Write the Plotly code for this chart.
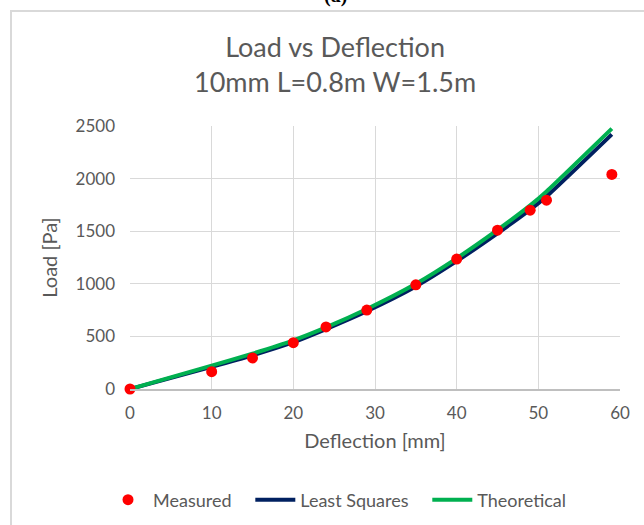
import plotly.graph_objects as go

# Data
deflection_mm = [0, 10, 15, 20, 24, 29, 35, 40, 45, 49, 51, 59]
measured_pa = [0, 165, 295, 440, 590, 750, 990, 1235, 1510, 1700, 1795, 2040]
least_squares_pa = [0, 210, 320, 445, 570, 740, 975, 1215, 1480, 1705, 1830, 2420]
theoretical_pa = [0, 222, 336, 462, 585, 760, 1000, 1242, 1512, 1745, 1878, 2475]

x_ticks = [0, 10, 20, 30, 40, 50, 60]
y_ticks = [0, 500, 1000, 1500, 2000, 2500]

W, H = 644, 525
PL, PR, PT, PB = 130, 620, 126, 389  # plot area in pixels


def px_x(p):
    return (p - PL) / (PR - PL)


def px_y(p):
    return (PB - p) / (PB - PT)


FONT = "Lato"
GREY = "#595959"
NB = "\u00a0"

fig = go.Figure()
fig.add_trace(go.Scatter(
    x=deflection_mm, y=least_squares_pa, mode="lines",
    name="Least Squares" + NB * 3,
    line=dict(color="#002060", width=4, shape="spline", smoothing=0.6),
    legendrank=2, cliponaxis=False))
fig.add_trace(go.Scatter(
    x=deflection_mm, y=theoretical_pa, mode="lines", name="Theoretical",
    line=dict(color="#00b050", width=4, shape="spline", smoothing=0.6),
    legendrank=3, cliponaxis=False))
fig.add_trace(go.Scatter(
    x=deflection_mm, y=measured_pa, mode="markers", name="Measured" + NB * 3,
    marker=dict(color="#ff0000", size=11, line=dict(width=0)),
    legendrank=1, cliponaxis=False))

# chart frame
fig.add_shape(type="rect", xref="paper", yref="paper",
              x0=px_x(11), x1=px_x(700), y0=px_y(600), y1=px_y(11),
              line=dict(color="#d9d9d9", width=2), fillcolor="rgba(0,0,0,0)",
              layer="below")

fig.add_annotation(text="Load vs Deflection<br>10mm L=0.8m W=1.5m",
                   xref="paper", yref="paper", x=px_x(335), y=px_y(64),
                   xanchor="center", yanchor="middle", showarrow=False,
                   font=dict(family=FONT, size=27, color=GREY))
fig.add_annotation(text="<b>(a)</b>", xref="paper", yref="paper",
                   x=px_x(335), y=px_y(9), xanchor="center", yanchor="bottom",
                   showarrow=False,
                   font=dict(family="Liberation Serif", size=20, color="#000000"))

fig.update_layout(
    width=W, height=H,
    margin=dict(l=PL, r=W - PR, t=PT, b=H - PB, autoexpand=False),
    paper_bgcolor="white", plot_bgcolor="white",
    font=dict(family=FONT, size=18, color=GREY),
    showlegend=True,
    legend=dict(orientation="h", x=px_x(103), y=px_y(500),
                xanchor="left", yanchor="middle",
                font=dict(family=FONT, size=18, color=GREY),
                itemwidth=40, tracegroupgap=0, bgcolor="rgba(0,0,0,0)"),
    xaxis=dict(range=[0, 60], tickvals=x_ticks, showgrid=True,
               gridcolor="#d9d9d9", gridwidth=1.2, zeroline=False,
               showline=True, linecolor="#bfbfbf", linewidth=1.5,
               ticks="", ticklabelstandoff=8, automargin=False,
               tickfont=dict(family=FONT, size=17, color=GREY),
               title=dict(text="Deflection [mm]", standoff=12,
                          font=dict(family=FONT, size=20, color=GREY))),
    yaxis=dict(range=[0, 2500], tickvals=y_ticks, showgrid=True,
               gridcolor="#d9d9d9", gridwidth=1.2, zeroline=False,
               showline=False, ticks="", ticklabelstandoff=14, automargin=False,
               tickfont=dict(family=FONT, size=17, color=GREY),
               title=dict(text="Load [Pa]", standoff=12,
                          font=dict(family=FONT, size=20, color=GREY))),
)

fig.write_html("out.html")
